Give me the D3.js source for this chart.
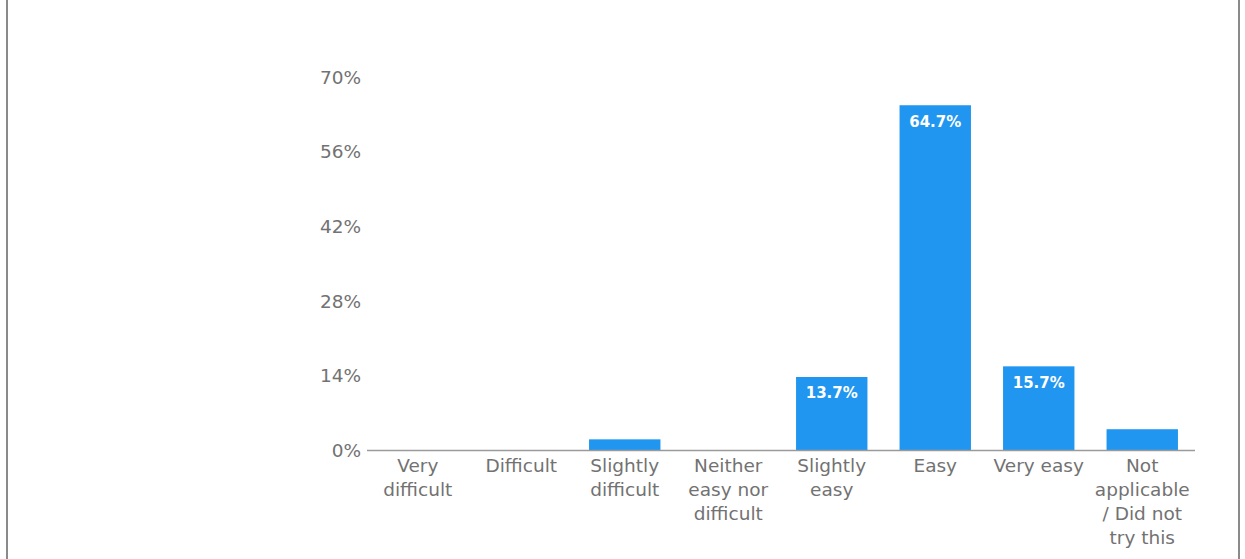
<!DOCTYPE html>
<html>
<head>
<meta charset="utf-8">
<script src="https://cdn.jsdelivr.net/npm/d3@7"></script>
<style>
  html, body { margin: 0; padding: 0; background: #fff; }
  svg { display: block; }
</style>
</head>
<body>
<svg id="chart" width="1245" height="559"></svg>
<script>
// Survey answers: how easy was it?
const categories = [
  ["Very", "difficult"],
  ["Difficult"],
  ["Slightly", "difficult"],
  ["Neither", "easy nor", "difficult"],
  ["Slightly", "easy"],
  ["Easy"],
  ["Very easy"],
  ["Not", "applicable", "/ Did not", "try this"]
];
const shares = [0, 0, 2.0, 0, 13.7, 64.7, 15.7, 3.9];
const labelled = [false, false, false, false, true, true, true, false];
const yTicks = [0, 14, 28, 42, 56, 70];

const svg = d3.select("#chart");
const W = 1245, H = 559;

// frame around the panel
svg.append("rect")
  .attr("x", 7).attr("y", -4)
  .attr("width", 1232).attr("height", H + 8)
  .attr("fill", "none")
  .attr("stroke", "#8a8a8a")
  .attr("stroke-width", 2);

const x = d3.scaleBand()
  .domain(d3.range(categories.length))
  .range([366, 1194])
  .paddingInner(0.31)
  .paddingOuter(0.155);

const y = d3.scaleLinear()
  .domain([0, 70])
  .range([450, 77]);

const font = "'DejaVu Sans', Verdana, sans-serif";
const textGrey = "#727272";

// y axis labels
const yAxis = d3.axisLeft(y)
  .tickValues(yTicks)
  .tickSize(0)
  .tickPadding(0)
  .tickFormat(d => d + "%");
svg.append("g")
  .attr("transform", "translate(361,0)")
  .call(yAxis)
  .call(g => g.select(".domain").remove())
  .selectAll("text")
  .attr("font-family", font)
  .attr("font-size", 18.5)
  .attr("fill", textGrey)
  .attr("dy", "0.34em");

// bars
svg.append("g")
  .selectAll("rect")
  .data(shares)
  .join("rect")
  .attr("x", (d, i) => x(i))
  .attr("width", x.bandwidth())
  .attr("y", d => y(d))
  .attr("height", d => y(0) - y(d))
  .attr("fill", "#2196f0");

// value labels inside the larger bars
svg.append("g")
  .selectAll("text")
  .data(shares.map((v, i) => ({ v, i })).filter(d => labelled[d.i]))
  .join("text")
  .attr("x", d => x(d.i) + x.bandwidth() / 2)
  .attr("y", d => y(d.v) + 16)
  .attr("dy", "0.36em")
  .attr("text-anchor", "middle")
  .attr("font-family", font)
  .attr("font-weight", "bold")
  .attr("font-size", 15)
  .attr("fill", "#fff")
  .text(d => d.v.toFixed(1) + "%");

// baseline
svg.append("line")
  .attr("x1", 367).attr("x2", 1195)
  .attr("y1", y(0) + 0.5).attr("y2", y(0) + 0.5)
  .attr("stroke", "#9a9a9a")
  .attr("stroke-width", 1.5);

// category labels, wrapped over several lines
const xl = svg.append("g")
  .selectAll("text")
  .data(categories)
  .join("text")
  .attr("x", (d, i) => x(i) + x.bandwidth() / 2)
  .attr("y", 472)
  .attr("text-anchor", "middle")
  .attr("font-family", font)
  .attr("font-size", 18.5)
  .attr("fill", textGrey);
xl.selectAll("tspan")
  .data(d => d)
  .join("tspan")
  .attr("x", function () { return d3.select(this.parentNode).attr("x"); })
  .attr("dy", (d, j) => j === 0 ? 0 : 24)
  .text(d => d);
</script>
</body>
</html>
